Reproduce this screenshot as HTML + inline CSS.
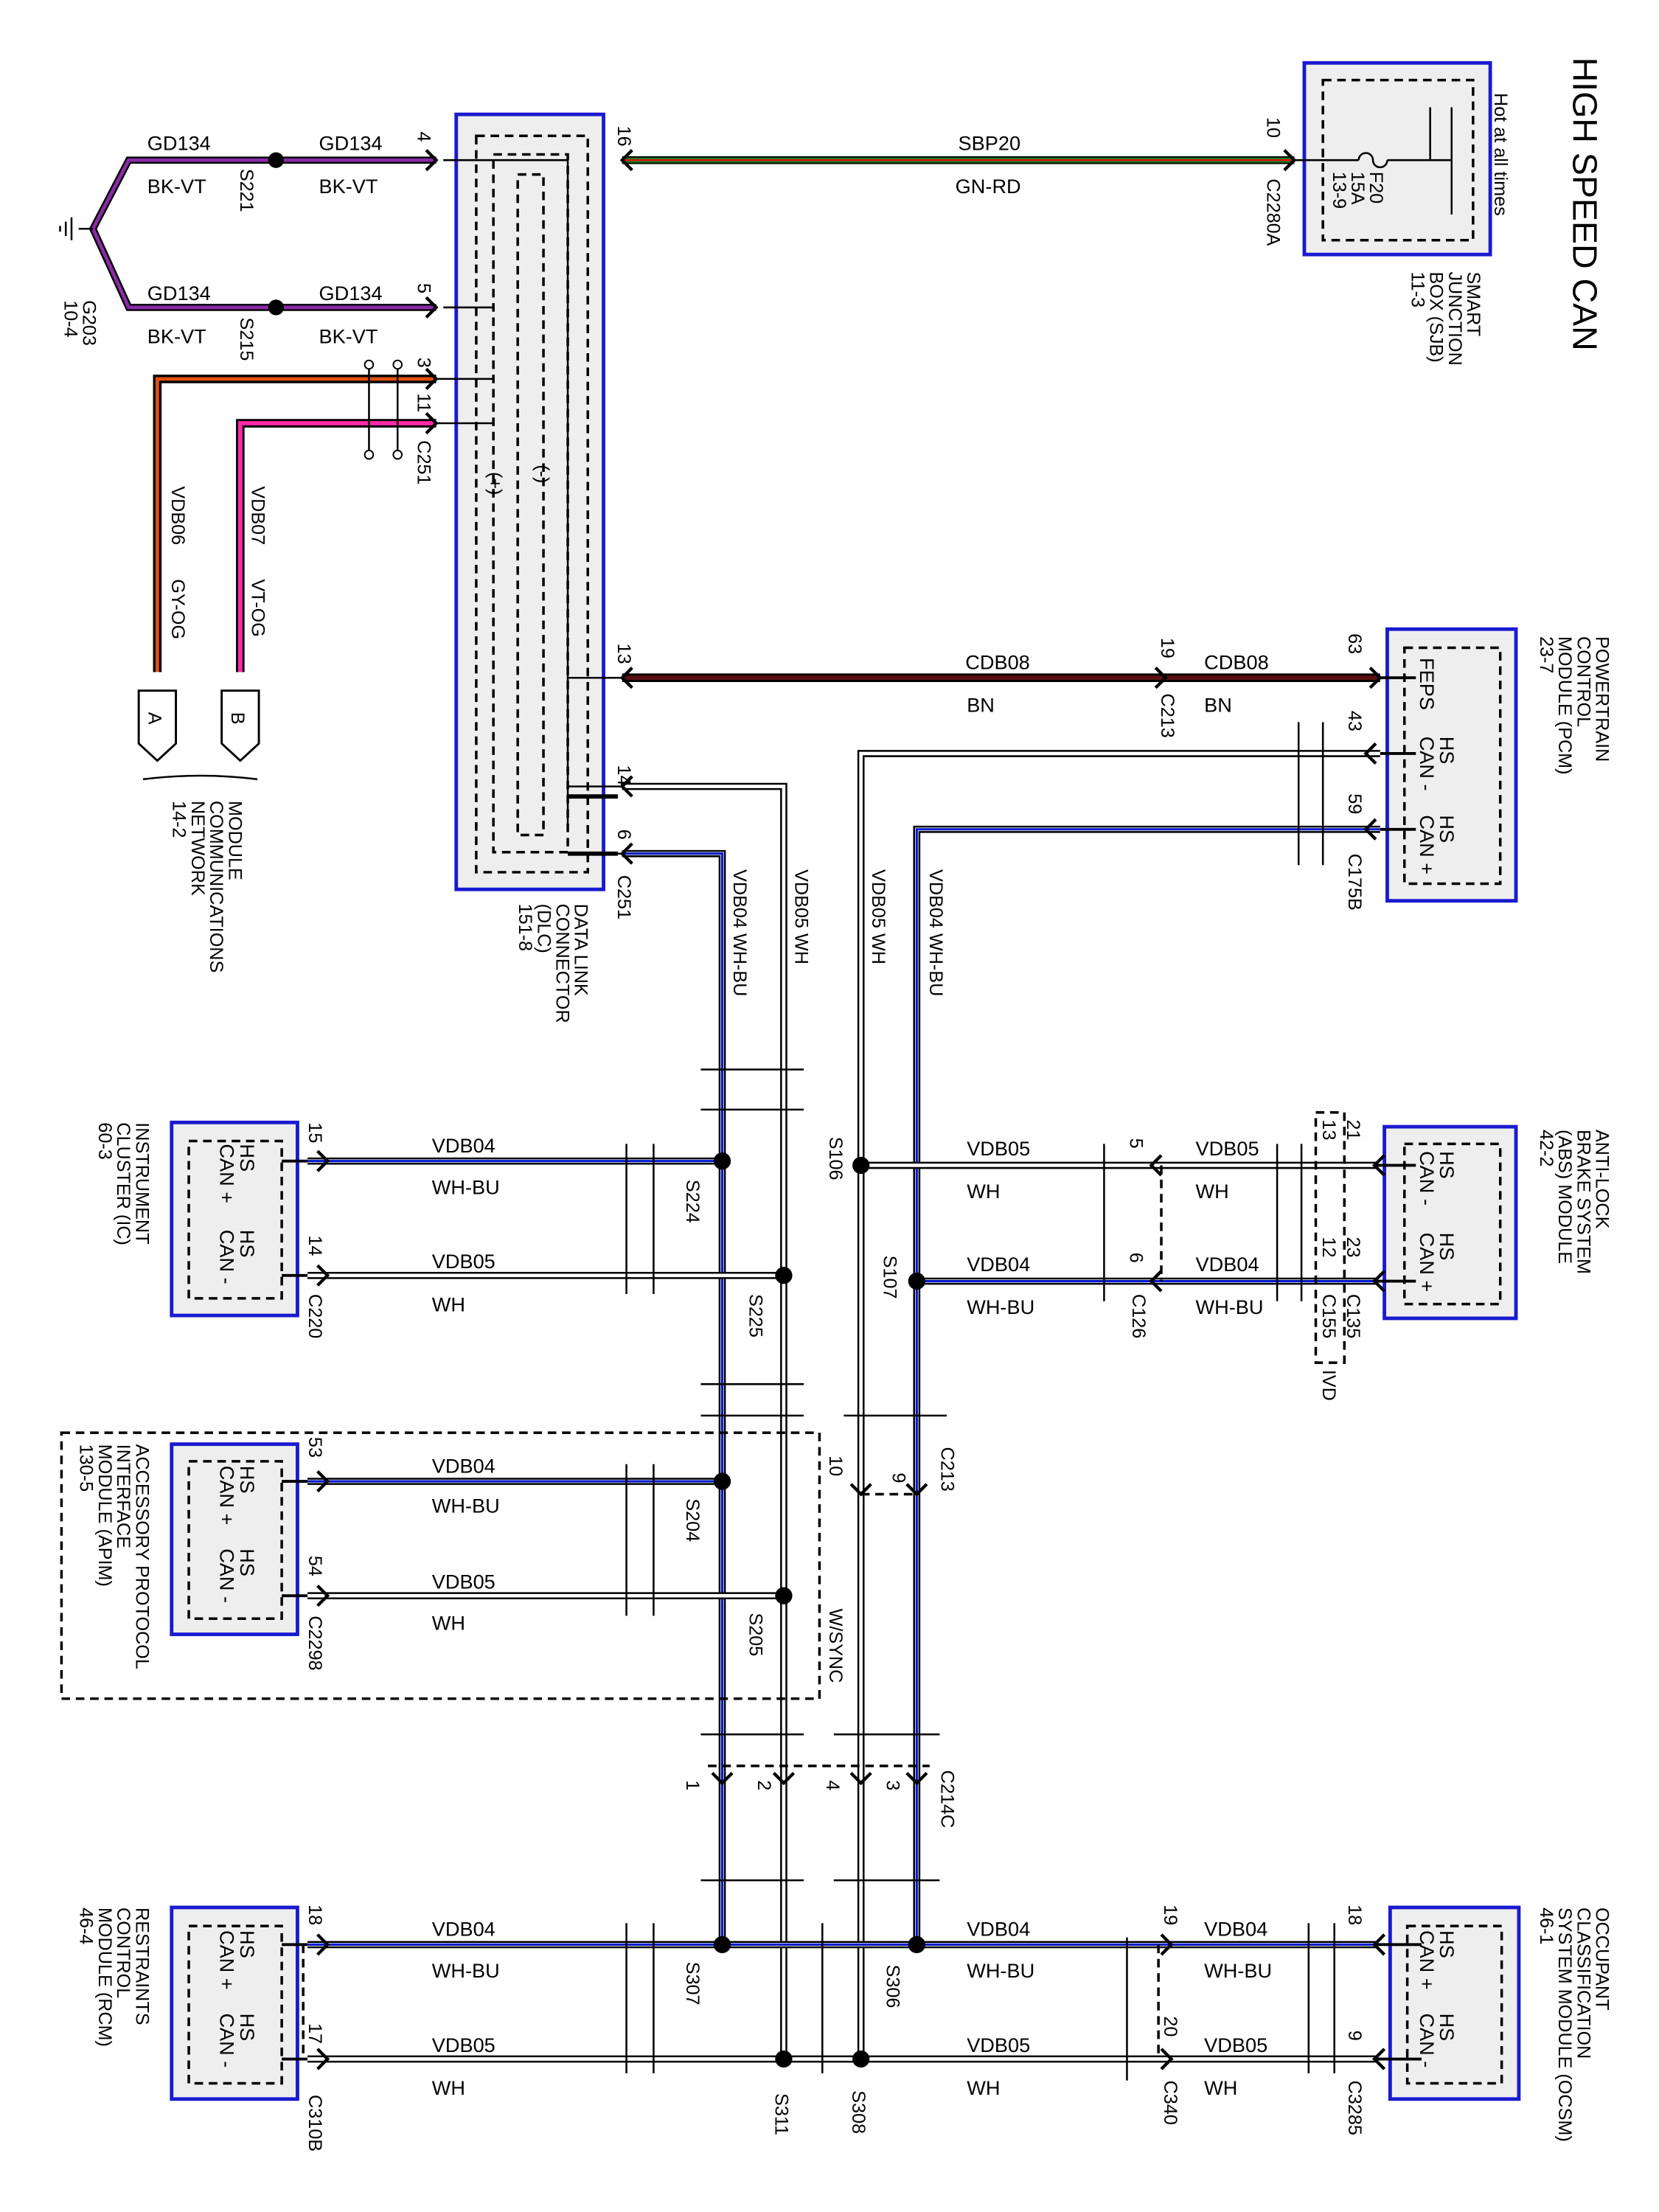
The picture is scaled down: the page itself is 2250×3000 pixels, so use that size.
<!DOCTYPE html>
<html><head><meta charset="utf-8"><style>
html,body{margin:0;padding:0;background:#fff}
svg{display:block}
text{font-family:"Liberation Sans",Arial,sans-serif;fill:#000}
.o{stroke:#000;stroke-width:5;fill:none}
.w{stroke:#fff;stroke-width:2.4;fill:none}
.b{stroke:#0018c8;stroke-width:1.6;fill:none}
.t{stroke:#000;stroke-width:1.3;fill:none}
.ch{stroke:#000;stroke-width:2.2;fill:none}
.bx{fill:#eeeeee;stroke:#1a1ad0;stroke-width:2.5}
.dash{fill:none;stroke:#000;stroke-width:1.8;stroke-dasharray:6,4}
.l{font-size:14px}
.s{font-size:13px}
</style></head><body>
<svg width="2250" height="3000" viewBox="0 0 1160 1547" preserveAspectRatio="none" xmlns="http://www.w3.org/2000/svg">
<rect width="1160" height="1547" fill="#fff"/>
<text transform="translate(1100,40) rotate(90)" font-size="24">HIGH SPEED CAN</text>

<!-- SJB -->
<rect class="bx" x="912" y="44" width="130" height="134"/>
<rect class="dash" x="925" y="56" width="105" height="112"/>
<text class="s" transform="translate(1045,65) rotate(90)">Hot at all times</text>
<path class="t" d="M905 112 H950 M970 112 H1015 M1015 75 V150 M1000 75 V112"/>
<path class="t" d="M950 112 A5 5 0 0 1 960 112 A5 5 0 0 0 970 112"/>
<text class="s" transform="translate(958,120) rotate(90)">F20</text>
<text class="s" transform="translate(945,120) rotate(90)">15A</text>
<text class="s" transform="translate(932,120) rotate(90)">13-9</text>
<text class="s" transform="translate(1026,190) rotate(90)">SMART</text>
<text class="s" transform="translate(1013,190) rotate(90)">JUNCTION</text>
<text class="s" transform="translate(1000,190) rotate(90)">BOX (SJB)</text>
<text class="s" transform="translate(987,190) rotate(90)">11-3</text>

<!-- SBP20 -->
<line x1="435" y1="112" x2="905" y2="112" stroke="#000" stroke-width="5.5"/>
<line x1="435" y1="112" x2="905" y2="112" stroke="#1f7a1f" stroke-width="3.5"/>
<line x1="435" y1="112" x2="905" y2="112" stroke="#e01010" stroke-width="1.2"/>
<text class="l" x="670" y="105">SBP20</text>
<text class="l" x="668" y="135">GN-RD</text>
<text class="s" transform="translate(886,82) rotate(90)">10</text>
<text class="s" transform="translate(886,125) rotate(90)">C2280A</text>

<!-- DLC -->
<rect class="bx" x="319" y="80" width="103" height="542"/>
<rect class="dash" x="333" y="95" width="78" height="515" fill="none"/>
<rect class="dash" x="345" y="108" width="52" height="488"/>
<rect class="dash" x="362" y="122" width="18" height="462"/>
<text class="s" transform="translate(342,330) rotate(90)">(+)</text>
<text class="s" transform="translate(375,325) rotate(90)">(-)</text>
<text class="s" transform="translate(432,88) rotate(90)">16</text>
<text class="s" transform="translate(432,450) rotate(90)">13</text>
<text class="s" transform="translate(432,535) rotate(90)">14</text>
<text class="s" transform="translate(432,580) rotate(90)">6</text>
<text class="s" transform="translate(432,612) rotate(90)">C251</text>
<text class="s" transform="translate(402,632) rotate(90)">DATA LINK</text>
<text class="s" transform="translate(389,632) rotate(90)">CONNECTOR</text>
<text class="s" transform="translate(376,632) rotate(90)">(DLC)</text>
<text class="s" transform="translate(363,632) rotate(90)">151-8</text>
<path class="t" d="M310 112 H397 V580 M310 215 H345 M300 265 H345 M300 296 H345 M397 474 H435 M397 550 H435 M397 597 H435"/>
<path d="M397 557 H432 M397 597 H432" stroke="#000" stroke-width="3"/>

<!-- ground wires -->
<path d="M305 112 H90 L65 160 L90 215 H305" stroke="#000" stroke-width="5" fill="none"/>
<path d="M305 112 H90 L65 160 L90 215 H305" stroke="#8a2aa8" stroke-width="2.5" fill="none"/>
<circle cx="193" cy="112" r="5.5"/><circle cx="193" cy="215" r="5.5"/>
<path class="t" d="M65 160 H55 M50 152 V168 M46 155 V165 M42 158 V162"/>
<text class="l" x="103" y="105">GD134</text><text class="l" x="223" y="105">GD134</text>
<text class="l" x="103" y="135">BK-VT</text><text class="l" x="223" y="135">BK-VT</text>
<text class="l" x="103" y="210">GD134</text><text class="l" x="223" y="210">GD134</text>
<text class="l" x="103" y="240">BK-VT</text><text class="l" x="223" y="240">BK-VT</text>
<text class="s" transform="translate(168,118) rotate(90)">S221</text>
<text class="s" transform="translate(168,222) rotate(90)">S215</text>
<text class="s" transform="translate(292,92) rotate(90)">4</text>
<text class="s" transform="translate(292,198) rotate(90)">5</text>
<text class="s" transform="translate(292,250) rotate(90)">3</text>
<text class="s" transform="translate(292,275) rotate(90)">11</text>
<text class="s" transform="translate(292,308) rotate(90)">C251</text>
<text class="s" transform="translate(58,210) rotate(90)">G203</text>
<text class="s" transform="translate(45,210) rotate(90)">10-4</text>

<!-- VDB06 / VDB07 -->
<path d="M305 265 H110 V470" stroke="#000" stroke-width="6" fill="none"/>
<path d="M305 265 H110 V470" stroke="#e05010" stroke-width="2.5" fill="none"/>
<path d="M305 296 H168 V470" stroke="#000" stroke-width="6" fill="none"/>
<path d="M305 296 H168 V470" stroke="#ff2aa8" stroke-width="3" fill="none"/>
<path class="t" d="M258 255 V318 M278 255 V318"/>
<circle cx="258" cy="255" r="3" fill="#fff" stroke="#000"/><circle cx="278" cy="255" r="3" fill="#fff" stroke="#000"/>
<circle cx="258" cy="318" r="3" fill="#fff" stroke="#000"/><circle cx="278" cy="318" r="3" fill="#fff" stroke="#000"/>
<text class="s" transform="translate(120,340) rotate(90)">VDB06</text>
<text class="s" transform="translate(120,405) rotate(90)">GY-OG</text>
<text class="s" transform="translate(176,340) rotate(90)">VDB07</text>
<text class="s" transform="translate(176,405) rotate(90)">VT-OG</text>
<path d="M97 483 H123 V520 L110 532 L97 520Z" fill="#fff" stroke="#000" stroke-width="1.5"/>
<path d="M155 483 H181 V520 L168 532 L155 520Z" fill="#fff" stroke="#000" stroke-width="1.5"/>
<text class="s" transform="translate(104,498) rotate(90)">A</text>
<text class="s" transform="translate(162,498) rotate(90)">B</text>
<path class="t" d="M100 545 Q140 540 180 545"/>
<text class="s" transform="translate(160,560) rotate(90)">MODULE</text>
<text class="s" transform="translate(147,560) rotate(90)">COMMUNICATIONS</text>
<text class="s" transform="translate(134,560) rotate(90)">NETWORK</text>
<text class="s" transform="translate(121,560) rotate(90)">14-2</text>

<!-- CDB08 -->
<line x1="435" y1="474" x2="965" y2="474" stroke="#000" stroke-width="6"/>
<line x1="435" y1="474" x2="965" y2="474" stroke="#5a1010" stroke-width="3"/>
<text class="l" x="675" y="468">CDB08</text><text class="l" x="842" y="468">CDB08</text>
<text class="l" x="676" y="498">BN</text><text class="l" x="842" y="498">BN</text>
<text class="s" transform="translate(812,446) rotate(90)">19</text>
<text class="s" transform="translate(812,485) rotate(90)">C213</text>

<!-- PCM -->
<rect class="bx" x="970" y="440" width="90" height="190"/>
<rect class="dash" x="982" y="453" width="67" height="165"/>
<path d="M965 474 H990 M965 527 H990 M965 580 H990" stroke="#000" stroke-width="2"/>
<text class="l" transform="translate(993,460) rotate(90)">FEPS</text>
<text class="l" transform="translate(1007,515) rotate(90)">HS</text>
<text class="l" transform="translate(993,515) rotate(90)">CAN -</text>
<text class="l" transform="translate(1007,570) rotate(90)">HS</text>
<text class="l" transform="translate(993,570) rotate(90)">CAN +</text>
<text class="s" transform="translate(943,443) rotate(90)">63</text>
<text class="s" transform="translate(943,497) rotate(90)">43</text>
<text class="s" transform="translate(943,555) rotate(90)">59</text>
<text class="s" transform="translate(943,597) rotate(90)">C175B</text>
<text class="s" transform="translate(1116,445) rotate(90)">POWERTRAIN</text>
<text class="s" transform="translate(1103,445) rotate(90)">CONTROL</text>
<text class="s" transform="translate(1090,445) rotate(90)">MODULE (PCM)</text>
<text class="s" transform="translate(1077,445) rotate(90)">23-7</text>

<!-- main vertical trunks -->
<path class="o" d="M435 550 H548 V1440"/><path class="w" d="M435 550 H548 V1440"/>
<path class="o" d="M435 597 H505 V1360"/><path class="w" d="M435 597 H505 V1360"/><path class="b" d="M435 597 H505 V1360"/>
<path class="o" d="M965 527 H602 V1440"/><path class="w" d="M965 527 H602 V1440"/>
<path class="o" d="M965 580 H641 V1360"/><path class="w" d="M965 580 H641 V1360"/><path class="b" d="M965 580 H641 V1360"/>
<text class="s" transform="translate(513,608) rotate(90)">VDB04   WH-BU</text>
<text class="s" transform="translate(556,608) rotate(90)">VDB05    WH</text>
<text class="s" transform="translate(610,608) rotate(90)">VDB05    WH</text>
<text class="s" transform="translate(650,608) rotate(90)">VDB04   WH-BU</text>
<path class="t" d="M908 505 V605 M925 505 V605"/>

<!-- IC -->
<rect class="bx" x="120" y="785" width="88" height="135"/>
<rect class="dash" x="132" y="798" width="65" height="110"/>
<path d="M197 812 H215 M197 892 H215" stroke="#000" stroke-width="2"/>
<text class="l" transform="translate(168,800) rotate(90)">HS</text>
<text class="l" transform="translate(154,800) rotate(90)">CAN +</text>
<text class="l" transform="translate(168,860) rotate(90)">HS</text>
<text class="l" transform="translate(154,860) rotate(90)">CAN -</text>
<text class="s" transform="translate(95,785) rotate(90)">INSTRUMENT</text>
<text class="s" transform="translate(82,785) rotate(90)">CLUSTER (IC)</text>
<text class="s" transform="translate(69,785) rotate(90)">60-3</text>
<path class="o" d="M215 812 H505"/><path class="w" d="M215 812 H505"/><path class="b" d="M215 812 H505"/>
<path class="o" d="M215 892 H548"/><path class="w" d="M215 892 H548"/>
<circle cx="505" cy="812" r="6"/><circle cx="548" cy="892" r="6"/>
<text class="l" x="302" y="806">VDB04</text><text class="l" x="302" y="835">WH-BU</text>
<text class="l" x="302" y="887">VDB05</text><text class="l" x="302" y="917">WH</text>
<text class="s" transform="translate(216,785) rotate(90)">15</text>
<text class="s" transform="translate(216,864) rotate(90)">14</text>
<text class="s" transform="translate(216,905) rotate(90)">C220</text>
<text class="s" transform="translate(480,825) rotate(90)">S224</text>
<text class="s" transform="translate(524,905) rotate(90)">S225</text>
<path class="t" d="M438 800 V905 M457 800 V905 M490 748 H562 M490 776 H562"/>

<!-- APIM -->
<rect class="dash" x="43" y="1002" width="530" height="186"/>
<rect class="bx" x="120" y="1010" width="88" height="133"/>
<rect class="dash" x="132" y="1022" width="65" height="110"/>
<path d="M197 1036 H215 M197 1116 H215" stroke="#000" stroke-width="2"/>
<text class="l" transform="translate(168,1025) rotate(90)">HS</text>
<text class="l" transform="translate(154,1025) rotate(90)">CAN +</text>
<text class="l" transform="translate(168,1083) rotate(90)">HS</text>
<text class="l" transform="translate(154,1083) rotate(90)">CAN -</text>
<text class="s" transform="translate(95,1010) rotate(90)">ACCESSORY PROTOCOL</text>
<text class="s" transform="translate(82,1010) rotate(90)">INTERFACE</text>
<text class="s" transform="translate(69,1010) rotate(90)">MODULE (APIM)</text>
<text class="s" transform="translate(56,1010) rotate(90)">130-5</text>
<path class="o" d="M215 1036 H505"/><path class="w" d="M215 1036 H505"/><path class="b" d="M215 1036 H505"/>
<path class="o" d="M215 1116 H548"/><path class="w" d="M215 1116 H548"/>
<circle cx="505" cy="1036" r="6"/><circle cx="548" cy="1116" r="6"/>
<text class="l" x="302" y="1030">VDB04</text><text class="l" x="302" y="1058">WH-BU</text>
<text class="l" x="302" y="1111">VDB05</text><text class="l" x="302" y="1140">WH</text>
<text class="s" transform="translate(216,1005) rotate(90)">53</text>
<text class="s" transform="translate(216,1088) rotate(90)">54</text>
<text class="s" transform="translate(216,1130) rotate(90)">C2298</text>
<text class="s" transform="translate(480,1048) rotate(90)">S204</text>
<text class="s" transform="translate(524,1128) rotate(90)">S205</text>
<text class="s" transform="translate(580,1125) rotate(90)">W/SYNC</text>
<text class="s" transform="translate(580,1018) rotate(90)">10</text>
<text class="s" transform="translate(624,1030) rotate(90)">9</text>
<text class="s" transform="translate(658,1012) rotate(90)">C213</text>
<path class="t" d="M438 1024 V1130 M457 1024 V1130 M490 968 H562 M490 990 H562 M590 990 H662"/>
<path class="dash" d="M602 1045 H641"/>

<!-- C214C -->
<path class="t" d="M490 1213 H562 M583 1213 H657 M490 1315 H562 M583 1315 H657" />
<path class="dash" d="M495 1235 H650" />
<text class="s" transform="translate(480,1245) rotate(90)">1</text>
<text class="s" transform="translate(530,1245) rotate(90)">2</text>
<text class="s" transform="translate(578,1245) rotate(90)">4</text>
<text class="s" transform="translate(620,1245) rotate(90)">3</text>
<text class="s" transform="translate(658,1238) rotate(90)">C214C</text>

<!-- ABS -->
<rect class="bx" x="968" y="788" width="92" height="134"/>
<rect class="dash" x="982" y="800" width="67" height="112"/>
<path d="M962 815 H990 M962 896 H990" stroke="#000" stroke-width="2"/>
<text class="l" transform="translate(1007,805) rotate(90)">HS</text>
<text class="l" transform="translate(993,805) rotate(90)">CAN -</text>
<text class="l" transform="translate(1007,862) rotate(90)">HS</text>
<text class="l" transform="translate(993,862) rotate(90)">CAN +</text>
<text class="s" transform="translate(1116,790) rotate(90)">ANTI-LOCK</text>
<text class="s" transform="translate(1103,790) rotate(90)">BRAKE SYSTEM</text>
<text class="s" transform="translate(1090,790) rotate(90)">(ABS) MODULE</text>
<text class="s" transform="translate(1077,790) rotate(90)">42-2</text>
<path class="o" d="M602 815 H962"/><path class="w" d="M602 815 H962"/>
<path class="o" d="M641 896 H962"/><path class="w" d="M641 896 H962"/><path class="b" d="M641 896 H962"/>
<circle cx="602" cy="815" r="6"/><circle cx="641" cy="896" r="6"/>
<text class="l" x="676" y="808">VDB05</text><text class="l" x="676" y="838">WH</text>
<text class="l" x="676" y="889">VDB04</text><text class="l" x="676" y="919">WH-BU</text>
<text class="l" x="836" y="808">VDB05</text><text class="l" x="836" y="838">WH</text>
<text class="l" x="836" y="889">VDB04</text><text class="l" x="836" y="919">WH-BU</text>
<text class="s" transform="translate(580,795) rotate(90)">S106</text>
<text class="s" transform="translate(618,878) rotate(90)">S107</text>
<text class="s" transform="translate(790,796) rotate(90)">5</text>
<text class="s" transform="translate(790,876) rotate(90)">6</text>
<text class="s" transform="translate(792,905) rotate(90)">C126</text>
<path class="dash" d="M812 815 V896"/>
<rect class="dash" x="920" y="778" width="20" height="175"/>
<text class="s" transform="translate(942,783) rotate(90)">21</text>
<text class="s" transform="translate(925,783) rotate(90)">13</text>
<text class="s" transform="translate(942,865) rotate(90)">23</text>
<text class="s" transform="translate(925,865) rotate(90)">12</text>
<text class="s" transform="translate(942,905) rotate(90)">C135</text>
<text class="s" transform="translate(925,905) rotate(90)">C155</text>
<text class="s" transform="translate(925,958) rotate(90)">IVD</text>
<path class="t" d="M772 800 V910 M893 800 V910 M910 800 V910"/>

<!-- RCM -->
<rect class="bx" x="120" y="1334" width="88" height="134"/>
<rect class="dash" x="132" y="1347" width="65" height="110"/>
<path d="M197 1360 H215 M197 1440 H215" stroke="#000" stroke-width="2"/>
<text class="l" transform="translate(168,1350) rotate(90)">HS</text>
<text class="l" transform="translate(154,1350) rotate(90)">CAN +</text>
<text class="l" transform="translate(168,1408) rotate(90)">HS</text>
<text class="l" transform="translate(154,1408) rotate(90)">CAN -</text>
<text class="s" transform="translate(95,1334) rotate(90)">RESTRAINTS</text>
<text class="s" transform="translate(82,1334) rotate(90)">CONTROL</text>
<text class="s" transform="translate(69,1334) rotate(90)">MODULE (RCM)</text>
<text class="s" transform="translate(56,1334) rotate(90)">46-4</text>
<path class="o" d="M215 1360 H962"/><path class="w" d="M215 1360 H962"/><path class="b" d="M215 1360 H962"/>
<path class="o" d="M215 1440 H962"/><path class="w" d="M215 1440 H962"/>
<circle cx="505" cy="1360" r="6"/><circle cx="641" cy="1360" r="6"/>
<circle cx="548" cy="1440" r="6"/><circle cx="602" cy="1440" r="6"/>
<text class="l" x="302" y="1354">VDB04</text><text class="l" x="302" y="1383">WH-BU</text>
<text class="l" x="302" y="1435">VDB05</text><text class="l" x="302" y="1465">WH</text>
<text class="l" x="676" y="1354">VDB04</text><text class="l" x="676" y="1383">WH-BU</text>
<text class="l" x="676" y="1435">VDB05</text><text class="l" x="676" y="1465">WH</text>
<text class="l" x="842" y="1354">VDB04</text><text class="l" x="842" y="1383">WH-BU</text>
<text class="l" x="842" y="1435">VDB05</text><text class="l" x="842" y="1465">WH</text>
<text class="s" transform="translate(216,1332) rotate(90)">18</text>
<text class="s" transform="translate(216,1415) rotate(90)">17</text>
<text class="s" transform="translate(216,1465) rotate(90)">C310B</text>
<text class="s" transform="translate(480,1372) rotate(90)">S307</text>
<text class="s" transform="translate(620,1374) rotate(90)">S306</text>
<text class="s" transform="translate(542,1464) rotate(90)">S311</text>
<text class="s" transform="translate(596,1462) rotate(90)">S308</text>
<text class="s" transform="translate(814,1332) rotate(90)">19</text>
<text class="s" transform="translate(814,1410) rotate(90)">20</text>
<text class="s" transform="translate(814,1455) rotate(90)">C340</text>
<text class="s" transform="translate(943,1332) rotate(90)">18</text>
<text class="s" transform="translate(943,1420) rotate(90)">9</text>
<text class="s" transform="translate(943,1455) rotate(90)">C3285</text>
<path class="dash" d="M212 1360 V1440 M810 1360 V1440"/>
<path class="t" d="M438 1345 V1450 M457 1345 V1450 M575 1345 V1450 M788 1355 V1455 M915 1345 V1450 M933 1345 V1450"/>

<!-- OCSM -->
<rect class="bx" x="972" y="1334" width="90" height="134"/>
<rect class="dash" x="984" y="1347" width="66" height="110"/>
<path d="M962 1360 H994 M962 1440 H994" stroke="#000" stroke-width="2"/>
<text class="l" transform="translate(1007,1350) rotate(90)">HS</text>
<text class="l" transform="translate(993,1350) rotate(90)">CAN +</text>
<text class="l" transform="translate(1007,1408) rotate(90)">HS</text>
<text class="l" transform="translate(993,1408) rotate(90)">CAN -</text>
<text class="s" transform="translate(1116,1334) rotate(90)">OCCUPANT</text>
<text class="s" transform="translate(1103,1334) rotate(90)">CLASSIFICATION</text>
<text class="s" transform="translate(1090,1334) rotate(90)">SYSTEM MODULE (OCSM)</text>
<text class="s" transform="translate(1077,1334) rotate(90)">46-1</text>

<!-- connector chevrons -->
<g class="ch">
<path d="M442 105 L435 112 L442 119 M442 467 L435 474 L442 481 M442 543 L435 550 L442 557 M442 590 L435 597 L442 604"/>
<path d="M298 105 L305 112 L298 119 M298 208 L305 215 L298 222 M298 258 L305 265 L298 272 M298 289 L305 296 L298 303"/>
<path d="M898 105 L905 112 L898 119 M808 467 L815 474 L808 481"/>
<path d="M958 467 L965 474 L958 481 M962 520 L955 527 L962 534 M962 573 L955 580 L962 587"/>
<path d="M222 805 L229 812 L222 819 M222 885 L229 892 L222 899 M222 1029 L229 1036 L222 1043 M222 1109 L229 1116 L222 1123 M222 1353 L229 1360 L222 1367 M222 1433 L229 1440 L222 1447"/>
<path d="M812 808 L805 815 L812 822 M812 889 L805 896 L812 903 M968 808 L961 815 L968 822 M968 889 L961 896 L968 903"/>
<path d="M812 1353 L819 1360 L812 1367 M812 1433 L819 1440 L812 1447 M968 1353 L961 1360 L968 1367 M968 1433 L961 1440 L968 1447"/>
<path d="M595 1038 L602 1045 L609 1038 M634 1038 L641 1045 L648 1038 M498 1240 L505 1247 L512 1240 M541 1240 L548 1247 L555 1240 M595 1240 L602 1247 L609 1240 M634 1240 L641 1247 L648 1240"/>
</g>
</svg>
</body></html>
